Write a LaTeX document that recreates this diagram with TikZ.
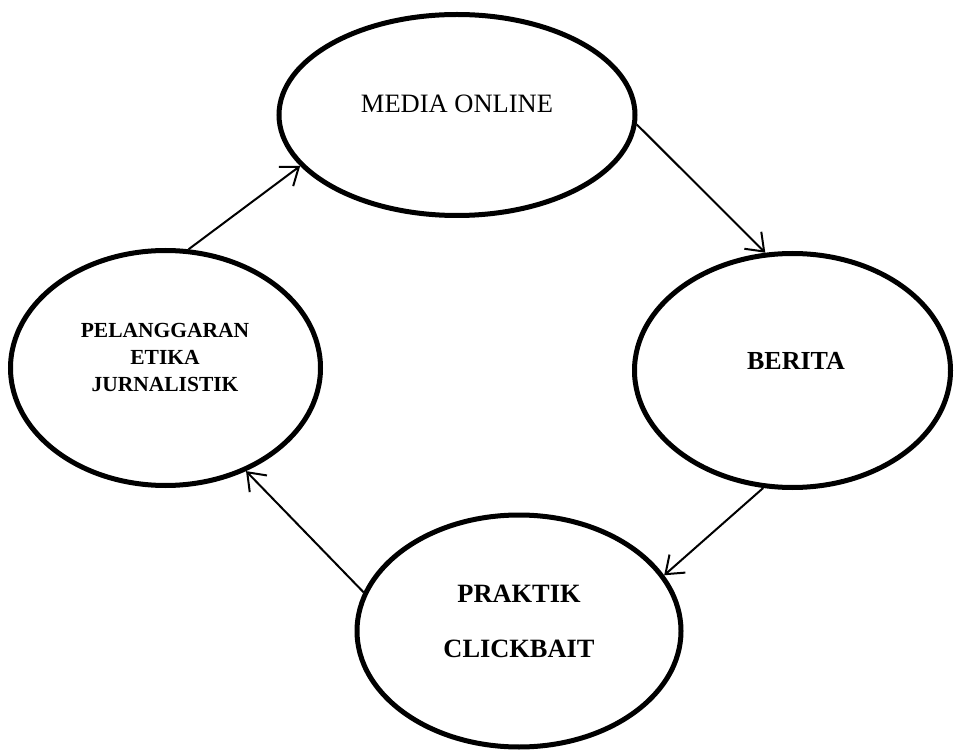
\documentclass[tikz,border=0pt]{standalone}
\usepackage{fontspec}
\setmainfont{Liberation Serif}
\usetikzlibrary{shapes.geometric,arrows.meta}
\begin{document}
\begin{tikzpicture}[x=1pt,y=-1pt,
  oval/.style={ellipse,draw,line width=5pt,inner sep=0pt},
  lbl/.style={inner sep=0pt,align=center},
  conn/.style={line width=2pt,-{Straight Barb[length=16pt,width=24pt,line width=2pt]}}]
\useasboundingbox (0,0) rectangle (954,751);
\node[oval,minimum width=356pt,minimum height=201pt] (media) at (457,115) {};
\node[oval,minimum width=316pt,minimum height=234pt] (berita) at (792.5,370.5) {};
\node[oval,minimum width=310pt,minimum height=235pt] (pel) at (165.5,368) {};
\node[oval,minimum width=324pt,minimum height=232pt] (praktik) at (519,631) {};
\node[lbl,anchor=base,font=\fontsize{26.5}{32}\selectfont] (t1) at (457,113) {MEDIA ONLINE};
\node[lbl,anchor=base,font=\bfseries\fontsize{26}{32}\selectfont] (t2) at (796,370) {BERITA};
\node[lbl,font=\bfseries\fontsize{21.5}{27}\selectfont] (t3) at (165,357) {PELANGGARAN\\ETIKA\\JURNALISTIK};
\node[lbl,font=\bfseries\fontsize{26.4}{55}\selectfont] (t4) at (519,621) {PRAKTIK\\CLICKBAIT};
\draw[conn] (pel.79) -- (media.198);
\draw[conn] (media.357) -- (berita.103);
\draw[conn] (berita.256) -- (praktik.21);
\draw[conn] (praktik.166) -- (pel.308);
\end{tikzpicture}
\end{document}
